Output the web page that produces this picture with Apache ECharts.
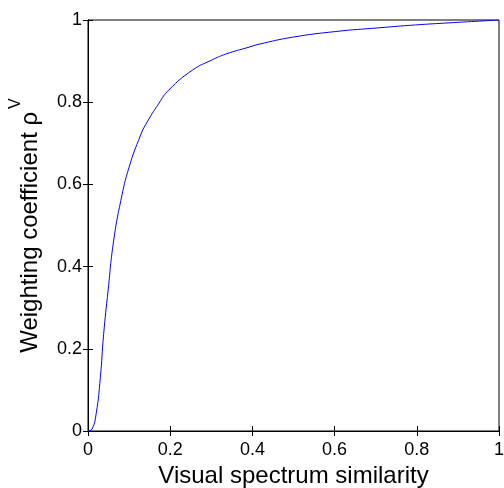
<!DOCTYPE html>
<html><head><meta charset="utf-8">
<script src="https://cdn.jsdelivr.net/npm/echarts@6/dist/echarts.min.js"></script>
<style>html,body{margin:0;padding:0;background:#fff}#c{width:504px;height:488px}</style>
</head><body><div id="c"></div>
<script>
var xVals = [0, 0.01, 0.02, 0.03, 0.038, 0.049, 0.062, 0.08, 0.1, 0.128, 0.14, 0.173, 0.197, 0.254, 0.3, 0.335, 0.392, 0.416, 0.497, 0.603, 0.708, 0.797, 0.878, 1.0];
var yVals = [0, 0.005, 0.043, 0.13, 0.235, 0.343, 0.46, 0.561, 0.642, 0.72, 0.745, 0.798, 0.83, 0.878, 0.902, 0.917, 0.934, 0.941, 0.958, 0.972, 0.981, 0.988, 0.993, 1.0];
var xTicks = [0, 0.2, 0.4, 0.6, 0.8, 1];
var yTicks = [0, 0.2, 0.4, 0.6, 0.8, 1];
var xTitle = 'Visual spectrum similarity';
var yTitle = 'Weighting coefficient ρ';
var ySup = 'V';

var font = 'Liberation Sans, Arial, sans-serif';
var data = xVals.map(function(x, i){ return [x, yVals[i]]; });
function fmt(v){ return String(+v.toFixed(1)); }
var chart = echarts.init(document.getElementById('c'));
var axisCommon = {
  min: xTicks[0], max: xTicks[xTicks.length - 1], interval: 0.2,
  axisLine: {show: true, lineStyle: {color: '#000', width: 1}},
  axisTick: {show: true, inside: true, length: 5, lineStyle: {color: '#000'}},
  splitLine: {show: false}
};
chart.setOption({
  animation: false,
  grid: {left: 88, right: 5, top: 20, bottom: 57, show: true, borderColor: '#000', borderWidth: 1,
         containLabel: false, outerBoundsMode: 'none'},
  xAxis: [
    Object.assign({}, axisCommon, {type: 'value', position: 'bottom',
      axisLabel: {color: '#000', fontSize: 18, fontFamily: font, margin: 10, formatter: fmt},
      name: xTitle, nameLocation: 'middle', nameGap: 27,
      nameTextStyle: {color: '#000', fontSize: 24, fontFamily: font}}),
    Object.assign({}, axisCommon, {type: 'value', position: 'top', axisLabel: {show: false}})
  ],
  yAxis: [
    Object.assign({}, axisCommon, {type: 'value', position: 'left',
      min: yTicks[0], max: yTicks[yTicks.length - 1],
      axisLabel: {color: '#000', fontSize: 18, fontFamily: font, margin: 6, formatter: fmt},
      name: '{a|' + yTitle + '}{s|' + ySup + '}', nameLocation: 'middle', nameGap: 46,
      nameTextStyle: {color: '#000', fontFamily: font,
        rich: {a: {fontSize: 24, fontFamily: font, color: '#000', verticalAlign: 'bottom'},
               s: {fontSize: 16, fontFamily: font, color: '#000', verticalAlign: 'top', padding: [0, 0, 18, 3]}}}}),
    Object.assign({}, axisCommon, {type: 'value', position: 'right', axisLabel: {show: false}})
  ],
  series: [{
    type: 'line', data: data, xAxisIndex: 0, yAxisIndex: 0,
    showSymbol: false, smooth: 0.5,
    lineStyle: {color: '#0000ff', width: 1}
  }]
});
</script></body></html>
